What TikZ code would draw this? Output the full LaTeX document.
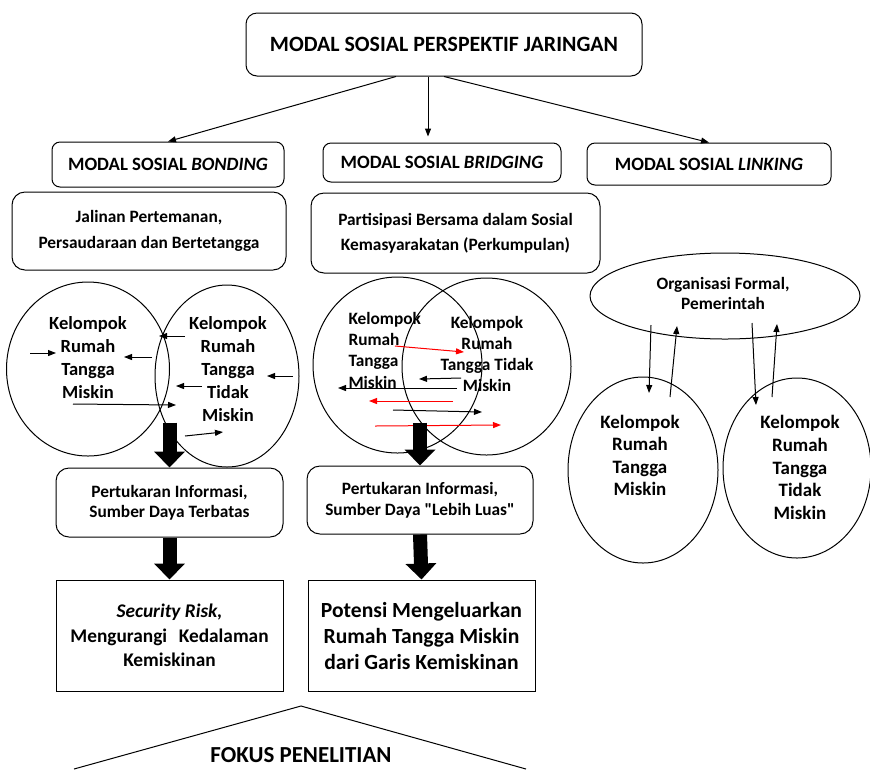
\documentclass[tikz,border=0pt]{standalone}
\usepackage{fontspec}
\setmainfont{Carlito}
\usetikzlibrary{arrows.meta,shapes.geometric}
\newlength{\px}
\setlength{\px}{0.75pt}
\newcommand{\setfs}[2]{\fontsize{#1}{#2}\selectfont\bfseries}

\tikzset{
  rbox/.style={draw, rounded corners=11\px, align=center, inner sep=0pt},
  sbox/.style={draw, align=center, inner sep=0pt},
  oval/.style={draw, ellipse, inner sep=0pt},
  txt/.style={align=center, inner sep=0pt},
  arr/.style={-{Triangle[length=6pt,width=4.5pt]}},
  redarr/.style={arr, red},
  blockarr/.style={line width=10.5pt, -{Triangle[length=12pt,width=22.5pt]}},
}

\begin{document}
\begin{tikzpicture}[x=\px, y=-\px, line width=0.75pt]
  \useasboundingbox (0,0) rectangle (870,769);

  % tingkat atas
  \node[rbox, minimum width=396\px, minimum height=63\px, font={\setfs{16.4}{20}}] (title) at (444,44.5) {MODAL SOSIAL PERSPEKTIF JARINGAN};
  \node[rbox, rounded corners=8\px, minimum width=232\px, minimum height=45\px, font={\setfs{14.1}{17}}] (bond) at (168,164.5) {MODAL SOSIAL \textit{BONDING}};
  \node[rbox, rounded corners=8\px, minimum width=238\px, minimum height=39\px, font={\setfs{14.1}{17}}] (brid) at (442,162.5) {MODAL SOSIAL \textit{BRIDGING}};
  \node[rbox, rounded corners=8\px, minimum width=244\px, minimum height=42\px, font={\setfs{14.1}{17}}] (link) at (709,164) {MODAL SOSIAL \textit{LINKING}};

  \coordinate (tm) at ([xshift=-16\px]title.south);
  \coordinate (tmend) at (tm |- brid.north);
  \draw[arr] ([xshift=-48\px]title.south) -- (bond.north);
  \draw[arr] (tm) -- ([yshift=6\px]tmend);
  \draw[arr] (title.south) -- (link.north);

  \node[rbox, rounded corners=13\px, minimum width=274\px, minimum height=78\px, font={\setfs{13}{19.5}}] (jal) at (149,231) {Jalinan Pertemanan,\\Persaudaraan dan Bertetangga};
  \node[rbox, rounded corners=13\px, minimum width=289\px, minimum height=80\px, font={\setfs{13}{18.75}}] (part) at (455.5,233) {Partisipasi Bersama dalam Sosial\\Kemasyarakatan (Perkumpulan)};

  % lingkaran bonding
  \node[oval, minimum width=163\px, minimum height=174\px] (bl) at (88,369) {};
  \node[oval, minimum width=144\px, minimum height=182\px] (br) at (227,376) {};
  \node[txt, font={\setfs{13.9}{17.25}}] (blt) at (88,357.5) {Kelompok\\Rumah\\Tangga\\Miskin};
  \node[txt, font={\setfs{13.9}{17.25}}] (brt) at (228,369) {Kelompok\\Rumah\\Tangga\\Tidak\\Miskin};
  \foreach \k/\xa/\ya/\xb/\yb in {1/30/353/56/353, 2/152/357/124/357, 3/185/336/159/336,
      4/293/376/267/376, 5/202/386/176/386, 6/73/404/176/405, 7/185/436/223/432} {
    \coordinate (bs\k) at (\xa,\ya);
    \coordinate (be\k) at (\xb,\yb);
    \draw[arr] (bs\k) -- (be\k);
  }

  % lingkaran bridging
  \node[oval, minimum width=169\px, minimum height=176\px] (gl) at (397.5,365) {};
  \node[oval, minimum width=169\px, minimum height=177\px] (gr) at (486.5,366.5) {};
  \node[txt, align=left, anchor=west, font={\setfs{13}{16}}] (glt) at (348,350) {Kelompok\\Rumah\\Tangga\\Miskin};
  \node[txt, font={\setfs{13}{15.75}}] (grt) at (487,353.5) {Kelompok\\Rumah\\Tangga Tidak\\Miskin};
  \foreach \k/\c/\xa/\ya/\xb/\yb in {1/red/395/346/464/352, 2/black/461/378/419/379, 3/black/457/388/338/388,
      4/red/453/401/369/401, 5/black/393/410/482/412, 6/red/375/426/501/425} {
    \coordinate (gs\k) at (\xa,\ya);
    \coordinate (ge\k) at (\xb,\yb);
    \draw[arr, \c] (gs\k) -- (ge\k);
  }

  % linking
  \node[oval, minimum width=270\px, minimum height=86\px] (ol) at (725,296) {};
  \node[txt, font={\setfs{13}{15}}] (olt) at (723,293) {Organisasi Formal,\\Pemerintah};
  \node[oval, minimum width=150\px, minimum height=186\px] (ll) at (643,470) {};
  \node[oval, minimum width=148\px, minimum height=180\px] (lr) at (797,468) {};
  \node[txt, font={\setfs{14.2}{16.7}}] (llt) at (640,455.5) {Kelompok\\Rumah\\Tangga\\Miskin};
  \node[txt, font={\setfs{14.2}{17}}] (lrt) at (800,467.5) {Kelompok\\Rumah\\Tangga\\Tidak\\Miskin};
  \foreach \k/\xa/\ya/\xb/\yb in {1/651/325/649/393, 2/670/397/677/326, 3/752/323/756/405, 4/772/397/777/324} {
    \coordinate (ls\k) at (\xa,\ya);
    \coordinate (le\k) at (\xb,\yb);
    \draw[arr] (ls\k) -- (le\k);
  }

  % hasil
  \node[rbox, rounded corners=13\px, minimum width=227\px, minimum height=69\px, font={\setfs{13}{15}}] (pert1) at (169.5,502.5) {Pertukaran Informasi,\\Sumber Daya Terbatas};
  \node[rbox, rounded corners=13\px, minimum width=226\px, minimum height=68\px, font={\setfs{13}{15.75}}] (pert2) at (420,500) {Pertukaran Informasi,\\Sumber Daya \textquotedbl Lebih Luas\textquotedbl};
  \node[sbox, minimum width=227\px, minimum height=111\px, font={\setfs{14.5}{18.4}}] (sec) at (169.5,635.5) {\textit{Security Risk,}\\Mengurangi\hspace{0.6em}Kedalaman\\Kemiskinan};
  \node[sbox, minimum width=227\px, minimum height=111\px, font={\setfs{16.2}{19.5}}] (pot) at (421.5,635.5) {Potensi Mengeluarkan\\Rumah Tangga Miskin\\dari Garis Kemiskinan};

  \draw[blockarr] ([yshift=45\px]pert1.north) -- (pert1.north);
  \draw[blockarr] (pert1.south) -- (sec.north);
  \draw[blockarr] ([yshift=43\px]pert2.north) -- (pert2.north);
  \draw[blockarr] (pert2.south) -- (pot.north);

  % fokus penelitian
  \coordinate (apex) at (301,706);
  \coordinate (fl) at (74,769);
  \coordinate (fr) at (526,769);
  \draw (fl) -- (apex) -- (fr);
  \node[txt, font={\setfs{17.2}{20}}] (fokus) at (301,755) {FOKUS PENELITIAN};
\end{tikzpicture}
\end{document}
